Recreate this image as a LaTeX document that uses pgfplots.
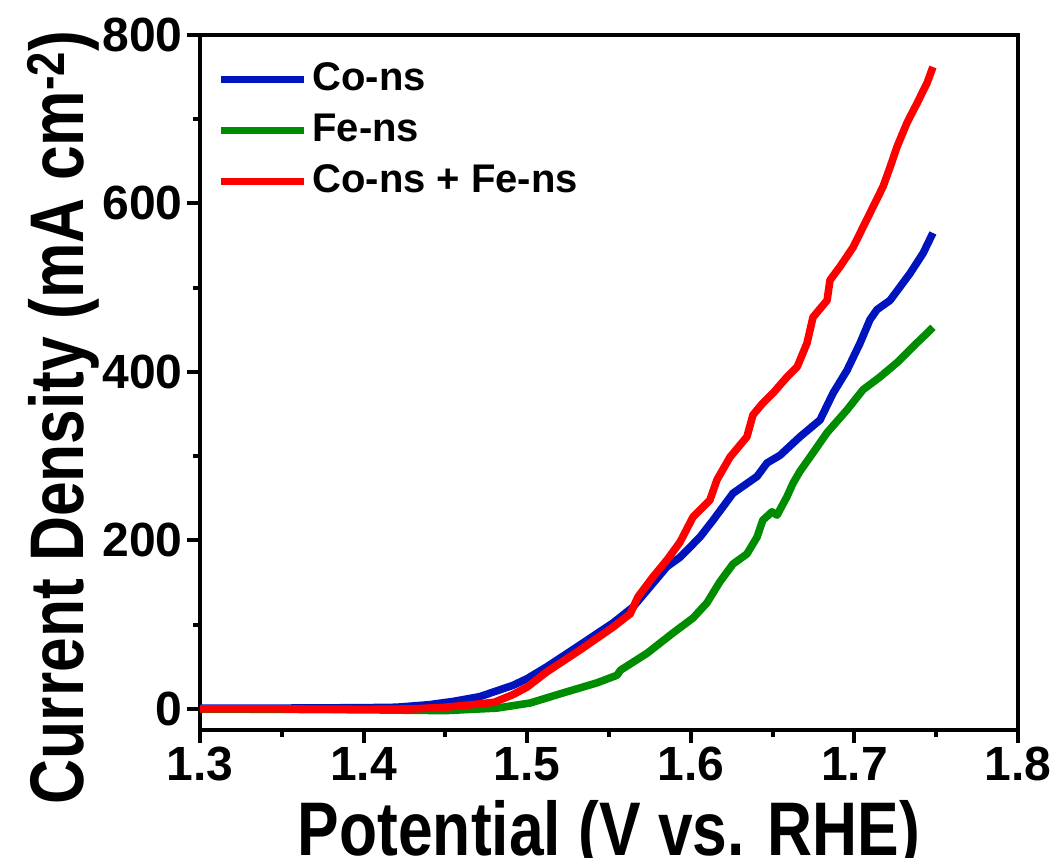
\documentclass[border=0pt]{standalone}
\usepackage{pgfplots}
\pgfplotsset{compat=1.18}
\usepackage{fontspec}
\setmainfont{Liberation Sans}
\newfontfamily\narrowfont[FakeStretch=0.82]{Liberation Sans}
\definecolor{cblue}{RGB}{0,20,190}
\definecolor{cgreen}{RGB}{0,140,0}
\definecolor{cred}{RGB}{255,0,0}
\begin{document}
\begin{tikzpicture}
\begin{axis}[
  scale only axis, width=409pt, height=347.5pt,
  xmin=1.3, xmax=1.8, ymin=-25, ymax=800,
  xtick={1.3,1.4,1.5,1.6,1.7,1.8},
  xticklabels={1.3,1.4,1.5,1.6,1.7,1.8},
  minor xtick={1.35,1.45,1.55,1.65,1.75},
  ytick={0,200,400,600,800},
  yticklabels={0,200,400,600,800},
  minor ytick={100,300,500,700},
  tick align=outside, xtick pos=bottom, ytick pos=left,
  major tick length=6.5pt, minor tick length=3.5pt,
  every tick/.style={black, line width=2pt},
  axis line style={line width=2pt},
  /pgf/number format/assume math mode=true,
  ticklabel style={font=\fontsize{24}{28}\selectfont\bfseries, inner sep=2pt},
  xlabel={Potential (V vs. RHE)},
  ylabel={Current Density (mA cm\textsuperscript{-2})},
  xlabel style={at={(axis description cs:0.5,0)}, anchor=north, yshift=-35pt, inner sep=0pt,
    font=\narrowfont\fontsize{38}{44}\selectfont\bfseries},
  ylabel style={at={(axis description cs:-0.143,0.45)}, anchor=base, inner sep=0pt,
    font=\narrowfont\fontsize{38}{44}\selectfont\bfseries},
  legend style={at={(axis description cs:0.0208,0.967)}, anchor=north west, draw=none, fill=none,
    font=\fontsize{20}{24}\selectfont\bfseries, inner sep=0pt, row sep=4.5pt,
    nodes={inner sep=1pt, text height=15pt, text depth=4pt}},
  /tikz/every odd column/.append style={column sep=1.5pt},
  legend cell align=left,
  legend image code/.code={\draw[#1, line width=3.5pt] (0pt,0pt) -- (41.5pt,0pt);},
  every axis plot/.append style={line width=3.8pt, line join=round},
]
\addplot[cblue] coordinates {
(1.30,1) (1.35,1) (1.40,1.5) (1.42,2) (1.44,5) (1.455,9) (1.471,14.6) (1.4913,28)
(1.50,36) (1.512,50) (1.5323,76) (1.5524,102) (1.5647,121) (1.5855,169) (1.5934,180)
(1.6056,204) (1.6136,224) (1.6258,256) (1.6405,276) (1.6466,292) (1.6545,301) (1.6667,323)
(1.679,343) (1.687,375) (1.6955,402) (1.7034,434) (1.7095,462) (1.7138,474) (1.7218,485)
(1.734,517) (1.742,541) (1.748,565)
};
\addlegendentry{Co-ns}
\addplot[cgreen] coordinates {
(1.30,0) (1.35,-0.5) (1.40,-1) (1.45,-2) (1.4815,1) (1.5017,7) (1.5219,19) (1.5427,31)
(1.5549,40) (1.557,46) (1.5732,66) (1.589,90) (1.6014,108) (1.6099,126) (1.6178,151)
(1.6258,172) (1.6343,184) (1.6405,204) (1.644,224) (1.6496,234) (1.6527,230) (1.6588,252)
(1.6625,268) (1.6667,282) (1.6747,304) (1.6833,328) (1.6955,355) (1.7053,379) (1.7156,394)
(1.726,411) (1.7358,430) (1.7444,446) (1.748,453)
};
\addlegendentry{Fe-ns}
\addplot[cred] coordinates {
(1.30,0) (1.35,0) (1.40,-0.5) (1.43,0) (1.45,2) (1.471,6) (1.48,8) (1.4913,17) (1.50,26)
(1.512,44) (1.5323,70) (1.5524,97) (1.563,113) (1.5677,133) (1.577,157) (1.5855,177)
(1.5934,198) (1.6014,228) (1.6117,248) (1.616,272) (1.624,299) (1.6343,323) (1.638,349)
(1.644,363) (1.6503,375) (1.6588,394) (1.665,406) (1.671,434) (1.6747,465) (1.6833,485)
(1.6851,509) (1.6912,525) (1.6992,548) (1.7053,572) (1.7114,596) (1.7175,620) (1.7218,643)
(1.726,667) (1.7322,696) (1.7383,719) (1.7444,743) (1.748,762)
};
\addlegendentry{Co-ns + Fe-ns}
\coordinate (sw) at (rel axis cs:0,0);
\coordinate (ne) at (rel axis cs:1,1);
\end{axis}
\pgfresetboundingbox
\path ([xshift=-100pt,yshift=-63.5pt]sw) rectangle ([xshift=21pt,yshift=17.5pt]ne);
\end{tikzpicture}
\end{document}
